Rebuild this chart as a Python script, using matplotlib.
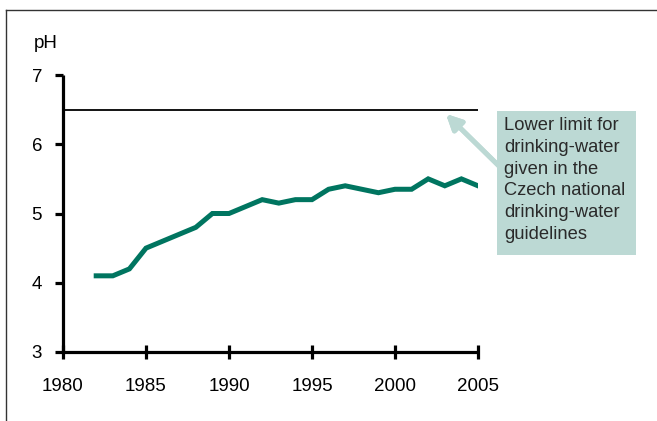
import matplotlib.pyplot as plt
from matplotlib.patches import Rectangle
from matplotlib.lines import Line2D

years = [1982, 1983, 1984, 1985, 1986, 1987, 1988, 1989, 1990, 1991, 1992, 1993,
         1994, 1995, 1996, 1997, 1998, 1999, 2000, 2001, 2002, 2003, 2004, 2005]
ph = [4.1, 4.1, 4.2, 4.5, 4.6, 4.7, 4.8, 5.0, 5.0, 5.1, 5.2, 5.15,
      5.2, 5.2, 5.35, 5.4, 5.35, 5.3, 5.35, 5.35, 5.5, 5.4, 5.5, 5.4]
limit = 6.5
xticks = [1980, 1985, 1990, 1995, 2000, 2005]
yticks = [3, 4, 5, 6, 7]
note = "Lower limit for\ndrinking-water\ngiven in the\nCzech national\ndrinking-water\nguidelines"

plt.rcParams['font.family'] = ['Liberation Sans', 'DejaVu Sans']

W, H = 657, 421
fig = plt.figure(figsize=(6.57, 4.21), dpi=100)
ax = fig.add_axes([63 / W, 1 - 352 / H, (478 - 63) / W, (352 - 75) / H])

ax.plot(years, ph, color='#007560', lw=3.6, solid_joinstyle='miter')
ax.plot([1980, 2005], [limit, limit], color='black', lw=1.3)

ax.set_xlim(1980, 2005)
ax.set_ylim(3, 7)
ax.set_xticks(xticks)
ax.set_yticks(yticks)
ax.spines['top'].set_visible(False)
ax.spines['right'].set_visible(False)
for s in ('left', 'bottom'):
    ax.spines[s].set_linewidth(2.3)
ax.tick_params(width=2.3, length=6, labelsize=13.5, colors='black')
ax.tick_params(axis='x', direction='inout', length=10, pad=14)
ax.tick_params(axis='y', pad=9)
for sp in ax.spines.values():
    sp.set_capstyle('butt')

fig.text(34 / W, 1 - 44 / H, "pH", fontsize=13.5, va='center', ha='left')

# frame around the figure
fig.add_artist(Line2D([6 / W, 1], [1 - 10 / H, 1 - 10 / H], color='#333333', lw=1.0))
fig.add_artist(Line2D([6 / W, 6 / W], [0, 1 - 10 / H], color='#333333', lw=1.0))

# note box
fig.add_artist(Rectangle((497 / W, 1 - 255 / H), (636 - 497) / W, (255 - 111) / H,
                         transform=fig.transFigure, facecolor='#bcd9d4', edgecolor='none'))
fig.text(504 / W, 1 - 117 / H, note, fontsize=13.2, color='#2a2a2a',
         va='top', ha='left', linespacing=1.37)
fig.add_artist(plt.annotate('', xy=(446 / W, 1 - 114 / H), xycoords='figure fraction',
                            xytext=(501 / W, 1 - 168 / H), textcoords='figure fraction',
                            arrowprops=dict(arrowstyle='-|>,head_length=0.9,head_width=0.45',
                                            color='#bcd9d4', lw=3.5, shrinkA=0, shrinkB=0)))

fig.savefig('out.png', dpi=100)
